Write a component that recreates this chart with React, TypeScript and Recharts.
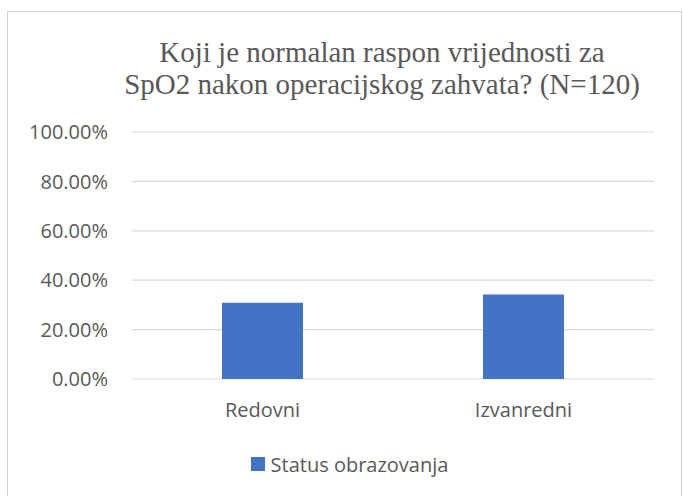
import React from 'react'
import { BarChart, Bar, XAxis, YAxis, CartesianGrid, Legend } from 'recharts'

const categories = ['Redovni', 'Izvanredni']
const statusValues = [30.83, 34.17]
const yTicks = [0, 20, 40, 60, 80, 100]
const titleLines = [
  'Koji je normalan raspon vrijednosti za',
  'SpO2 nakon operacijskog zahvata? (N=120)'
]
const seriesName = 'Status obrazovanja'

const data = categories.map((name, i) => ({ name, value: statusValues[i] }))

const textColor = '#595959'
const sans = '"Open Sans", sans-serif'

function LegendBox() {
  return (
    <div
      style={{
        display: 'flex',
        alignItems: 'center',
        justifyContent: 'center',
        height: 28,
        fontFamily: sans,
        fontSize: 20,
        color: textColor
      }}
    >
      <span
        style={{
          display: 'inline-block',
          width: 14,
          height: 14,
          background: '#4472C4',
          marginRight: 6
        }}
      />
      {seriesName}
    </div>
  )
}

export default function App() {
  return (
    <div
      style={{
        position: 'fixed',
        left: 0,
        top: 0,
        width: 683,
        height: 496,
        overflow: 'hidden',
        background: '#fff'
      }}
    >
      <div
        style={{
          position: 'absolute',
          left: 7,
          top: 11,
          width: 675,
          height: 520,
          boxSizing: 'border-box',
          border: '1px solid #d0d0d0'
        }}
      />
      <div
        style={{
          position: 'absolute',
          left: 382 - 300,
          top: 36,
          width: 600,
          textAlign: 'center',
          fontFamily: '"Liberation Serif", serif',
          fontSize: 29,
          lineHeight: '32px',
          color: textColor
        }}
      >
        {titleLines.map((t) => (
          <div key={t}>{t}</div>
        ))}
      </div>
      <div style={{ position: 'absolute', left: 0, top: 0 }}>
        <BarChart
          width={683}
          height={496}
          data={data}
          margin={{ top: 132, right: 29, left: 0, bottom: 0 }}
        >
          <CartesianGrid vertical={false} stroke="#d9d9d9" strokeWidth={1.2} />
          <XAxis
            dataKey="name"
            axisLine={false}
            tickLine={false}
            tickSize={0}
            tickMargin={24}
            height={89}
            tick={{ fontSize: 20, fill: textColor, fontFamily: sans }}
          />
          <YAxis
            domain={[0, 100]}
            ticks={yTicks}
            axisLine={false}
            tickLine={false}
            tickSize={0}
            tickMargin={24}
            width={132}
            tickFormatter={(v: number) => v.toFixed(2) + '%'}
            tick={{ fontSize: 20, fill: textColor, fontFamily: sans }}
          />
          <Legend
            content={<LegendBox />}
            wrapperStyle={{ position: 'absolute', left: 8, top: 450, width: 683, height: 28 }}
          />
          <Bar
            dataKey="value"
            name={seriesName}
            fill="#4472C4"
            barSize={81}
            isAnimationActive={false}
          />
        </BarChart>
      </div>
    </div>
  )
}
